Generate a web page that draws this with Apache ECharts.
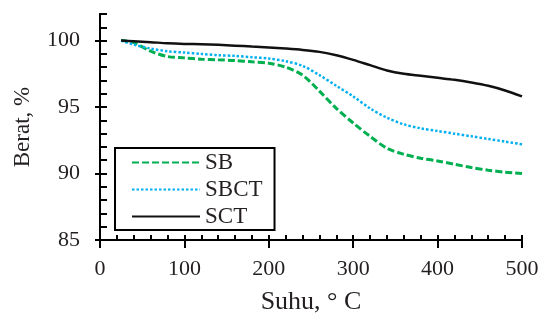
<!DOCTYPE html>
<html>
<head>
<meta charset="utf-8">
<script src="https://cdn.jsdelivr.net/npm/echarts@6/dist/echarts.min.js"></script>
<style>
  html, body { margin: 0; padding: 0; background: #fff; }
  #chart { width: 542px; height: 320px; }
</style>
</head>
<body>
<div id="chart"></div>
<script>
// Temperature (°C) and weight (%)
const temps = [25, 40, 60, 80, 100, 120, 140, 160, 180, 200, 220, 240, 260, 280, 300, 320, 340, 360, 380, 400, 420, 440, 460, 480, 500];
const sb   = [100, 99.85, 99.2, 98.8, 98.7, 98.6, 98.55, 98.5, 98.4, 98.3, 98.0, 97.4, 96.2, 94.9, 93.8, 92.8, 91.9, 91.45, 91.15, 90.95, 90.7, 90.45, 90.25, 90.1, 90.0];
const sbct = [100, 99.7, 99.4, 99.2, 99.1, 99.0, 98.9, 98.85, 98.75, 98.65, 98.45, 98.1, 97.4, 96.6, 95.8, 94.9, 94.2, 93.7, 93.4, 93.2, 93.0, 92.8, 92.6, 92.4, 92.2];
const sct  = [100, 99.95, 99.88, 99.8, 99.75, 99.72, 99.68, 99.62, 99.55, 99.48, 99.4, 99.3, 99.15, 98.9, 98.55, 98.15, 97.75, 97.5, 97.35, 97.2, 97.05, 96.85, 96.6, 96.25, 95.8];

const xMajor = [0, 100, 200, 300, 400, 500];
const yMajor = [85, 90, 95, 100];

const FONT = 'Liberation Serif';
const INK = '#231f20';

const pairs = (vals) => temps.map((t, i) => [t, vals[i]]);
const line = () => ({ show: true, onZero: false, lineStyle: { color: '#000', width: 2 } });
const tickStyle = () => ({ color: '#000', width: 2 });

const chart = echarts.init(document.getElementById('chart'));

chart.setOption({
  animation: false,
  grid: { left: 100, right: 20, top: 14, bottom: 79 },
  legend: {
    orient: 'vertical',
    left: 115,
    top: 148,
    borderColor: '#000',
    borderWidth: 2,
    padding: [3, 12, 2, 16],
    itemGap: 4,
    itemWidth: 68,
    itemHeight: 14,
    itemStyle: { opacity: 0 },
    textStyle: { fontFamily: FONT, fontSize: 23, color: INK },
    data: ['SB', 'SBCT', 'SCT']
  },
  xAxis: [
    {
      type: 'value', min: 0, max: 500, interval: 100,
      name: 'Suhu, ° C', nameLocation: 'middle', nameGap: 49,
      nameTextStyle: { fontFamily: FONT, fontSize: 26, color: INK },
      axisLine: line(),
      axisTick: { show: true, length: 8, customValues: xMajor, lineStyle: tickStyle() },
      axisLabel: { customValues: xMajor, margin: 18, fontFamily: FONT, fontSize: 22, color: INK },
      splitLine: { show: false }
    },
    {
      // minor ticks every 20 °C, pointing into the plot
      type: 'value', min: 0, max: 500, interval: 20, position: 'bottom',
      axisLine: line(),
      axisTick: { show: true, inside: true, length: 5, lineStyle: tickStyle() },
      axisLabel: { show: false },
      splitLine: { show: false }
    }
  ],
  yAxis: [
    {
      type: 'value', min: 85, max: 102, interval: 5,
      name: 'Berat, %', nameLocation: 'middle', nameGap: 66, nameRotate: 90,
      nameTextStyle: { fontFamily: FONT, fontSize: 23, color: INK },
      axisLine: line(),
      axisTick: { show: true, length: 5, customValues: yMajor, lineStyle: tickStyle() },
      axisLabel: { customValues: yMajor, margin: 20, fontFamily: FONT, fontSize: 22, color: INK },
      splitLine: { show: false }
    },
    {
      // minor ticks every 1 %, pointing into the plot
      type: 'value', min: 85, max: 102, interval: 1, position: 'left',
      axisLine: line(),
      axisTick: { show: true, inside: true, length: 7, lineStyle: tickStyle() },
      axisLabel: { show: false },
      splitLine: { show: false }
    }
  ],
  series: [
    {
      name: 'SB', type: 'line', smooth: 0.3, symbol: 'none',
      data: pairs(sb),
      lineStyle: { color: '#00b050', width: 3, type: [7, 3] },
      itemStyle: { color: '#00b050' }
    },
    {
      name: 'SBCT', type: 'line', smooth: 0.3, symbol: 'none',
      data: pairs(sbct),
      lineStyle: { color: '#00b0f0', width: 2.5, type: [2.5, 2] },
      itemStyle: { color: '#00b0f0' }
    },
    {
      name: 'SCT', type: 'line', smooth: 0.3, symbol: 'none',
      data: pairs(sct),
      lineStyle: { color: '#111', width: 2.5 },
      itemStyle: { color: '#111' }
    }
  ]
});
</script>
</body>
</html>
